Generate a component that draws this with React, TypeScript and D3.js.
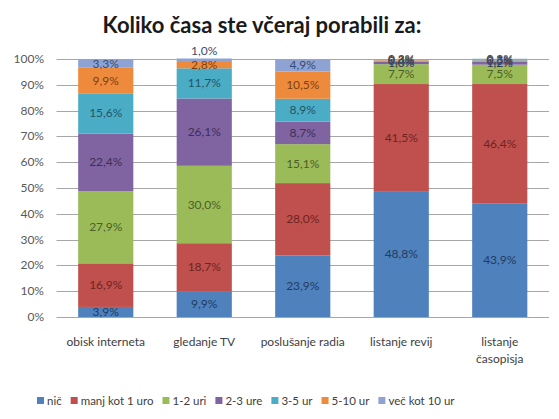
import React, { useEffect, useRef } from "react"
import * as d3 from "d3"

// activities (x categories)
const categories = ["obisk interneta", "gledanje TV", "poslušanje radia", "listanje revij", "listanje časopisja"]

// time spent (stack series), bottom to top
const seriesNames = ["nič", "manj kot 1 uro", "1-2 uri", "2-3 ure", "3-5 ur", "5-10 ur", "več kot 10 ur"]

// percentages per series, one value per category
const nic = [3.9, 9.9, 23.9, 48.8, 43.9]
const manjKot1 = [16.9, 18.7, 28.0, 41.5, 46.4]
const ur1do2 = [27.9, 30.0, 15.1, 7.7, 7.5]
const ur2do3 = [22.4, 26.1, 8.7, 1.0, 1.2]
const ur3do5 = [15.6, 11.7, 8.9, 0.4, 0.5]
const ur5do10 = [9.9, 2.8, 10.5, 0.3, 0.3]
const vecKot10 = [3.3, 1.0, 4.9, 0.3, 0.3]

const yTicks = [0, 10, 20, 30, 40, 50, 60, 70, 80, 90, 100]

const colors = ["#4F81BD", "#C0504D", "#9BBB59", "#8064A2", "#4BACC6", "#EE8A3C", "#8EA3D3"]
const labelColors = ["#223C63", "#6E2422", "#4B5F26", "#3E2F55", "#1F5666", "#7F3F10", "#394B72"]

const W = 559
const H = 419
const FONT = "Lato, 'Open Sans', sans-serif"

export default function App() {
    const ref = useRef<SVGSVGElement>(null)

    useEffect(() => {
        const svg = d3.select(ref.current)
        svg.selectAll("*").remove()

        const values = [nic, manjKot1, ur1do2, ur2do3, ur3do5, ur5do10, vecKot10]
        const rows = categories.map((c, i) => {
            const row: any = { cat: c }
            seriesNames.forEach((s, k) => (row[s] = values[k][i]))
            return row
        })
        const stacked = d3.stack<any>().keys(seriesNames)(rows)

        const x = d3.scaleBand().domain(categories).range([56.5, 549]).paddingInner(0.44).paddingOuter(0.22)
        const y = d3.scaleLinear().domain([0, 100]).range([317, 59])

        // title
        svg.append("text")
            .attr("x", 262)
            .attr("y", 33)
            .attr("text-anchor", "middle")
            .style("font-family", FONT)
            .style("font-size", "22px")
            .style("font-weight", "bold")
            .attr("fill", "#1a1a1a")
            .text("Koliko časa ste včeraj porabili za:")

        // gridlines + y labels
        svg.append("g")
            .selectAll("line")
            .data(yTicks)
            .enter()
            .append("line")
            .attr("x1", 56.5)
            .attr("x2", 549)
            .attr("y1", (d) => Math.round(y(d)) + 0.5)
            .attr("y2", (d) => Math.round(y(d)) + 0.5)
            .attr("stroke", "#A6A6A6")
            .attr("stroke-width", 1)

        svg.append("g")
            .selectAll("text")
            .data(yTicks)
            .enter()
            .append("text")
            .attr("x", 44)
            .attr("y", (d) => y(d) + 4)
            .attr("text-anchor", "end")
            .style("font-family", FONT)
            .style("font-size", "12px")
            .attr("fill", "#595959")
            .text((d) => d + "%")

        // bars
        const layers = svg.append("g")
            .selectAll("g")
            .data(stacked)
            .enter()
            .append("g")
            .attr("fill", (_, i) => colors[i])

        layers.selectAll("rect")
            .data((d) => d)
            .enter()
            .append("rect")
            .attr("x", (d: any) => x(d.data.cat)!)
            .attr("width", x.bandwidth())
            .attr("y", (d) => y(d[1]))
            .attr("height", (d) => y(d[0]) - y(d[1]))

        // labels
        const fmt = (v: number) => v.toFixed(1).replace(".", ",") + "%"
        stacked.forEach((layer, k) => {
            svg.append("g")
                .selectAll("text")
                .data(layer)
                .enter()
                .append("text")
                .attr("x", (d: any) => x(d.data.cat)! + x.bandwidth() / 2)
                .attr("y", (d: any, i) => {
                    const v = d[1] - d[0]
                    // tiny top segment sitting above a clearly labelled one: lift it above the bar
                    if (k === seriesNames.length - 1 && v <= 1) {
                        const below = stacked[k - 1][i][1] - stacked[k - 1][i][0]
                        if (below >= 2) return y(d[1]) - 3
                    }
                    return (y(d[0]) + y(d[1])) / 2 + 4
                })
                .attr("text-anchor", "middle")
                .style("font-family", FONT)
                .style("font-size", "12px")
                .attr("fill", labelColors[k])
                .text((d: any) => fmt(d[1] - d[0]))
        })

        // x labels
        const xl = svg.append("g")
        categories.forEach((c) => {
            const words = c.split(" ")
            const cx = x(c)! + x.bandwidth() / 2
            const lines = c.length > 17 ? words : [c]
            lines.forEach((ln, j) => {
                xl.append("text")
                    .attr("x", cx)
                    .attr("y", 346 + j * 17)
                    .attr("text-anchor", "middle")
                    .style("font-family", FONT)
                    .style("font-size", "12px")
                    .attr("fill", "#404040")
                    .text(ln)
            })
        })

        // legend
        const lg = svg.append("g")
        let lx = 37
        seriesNames.forEach((s, k) => {
            lg.append("rect").attr("x", lx).attr("y", 397).attr("width", 7).attr("height", 7).attr("fill", colors[k])
            const t = lg.append("text")
                .attr("x", lx + 10)
                .attr("y", 405)
                .style("font-family", FONT)
                .style("font-size", "11.5px")
                .attr("fill", "#404040")
                .text(s)
            const w = (t.node() as SVGTextElement).getComputedTextLength()
            lx += 10 + w + 9
        })
    }, [])

    return (
        <svg ref={ref} width={W} height={H} style={{ display: "block", position: "absolute", left: 0, top: 0, background: "#fff" }} />
    )
}
